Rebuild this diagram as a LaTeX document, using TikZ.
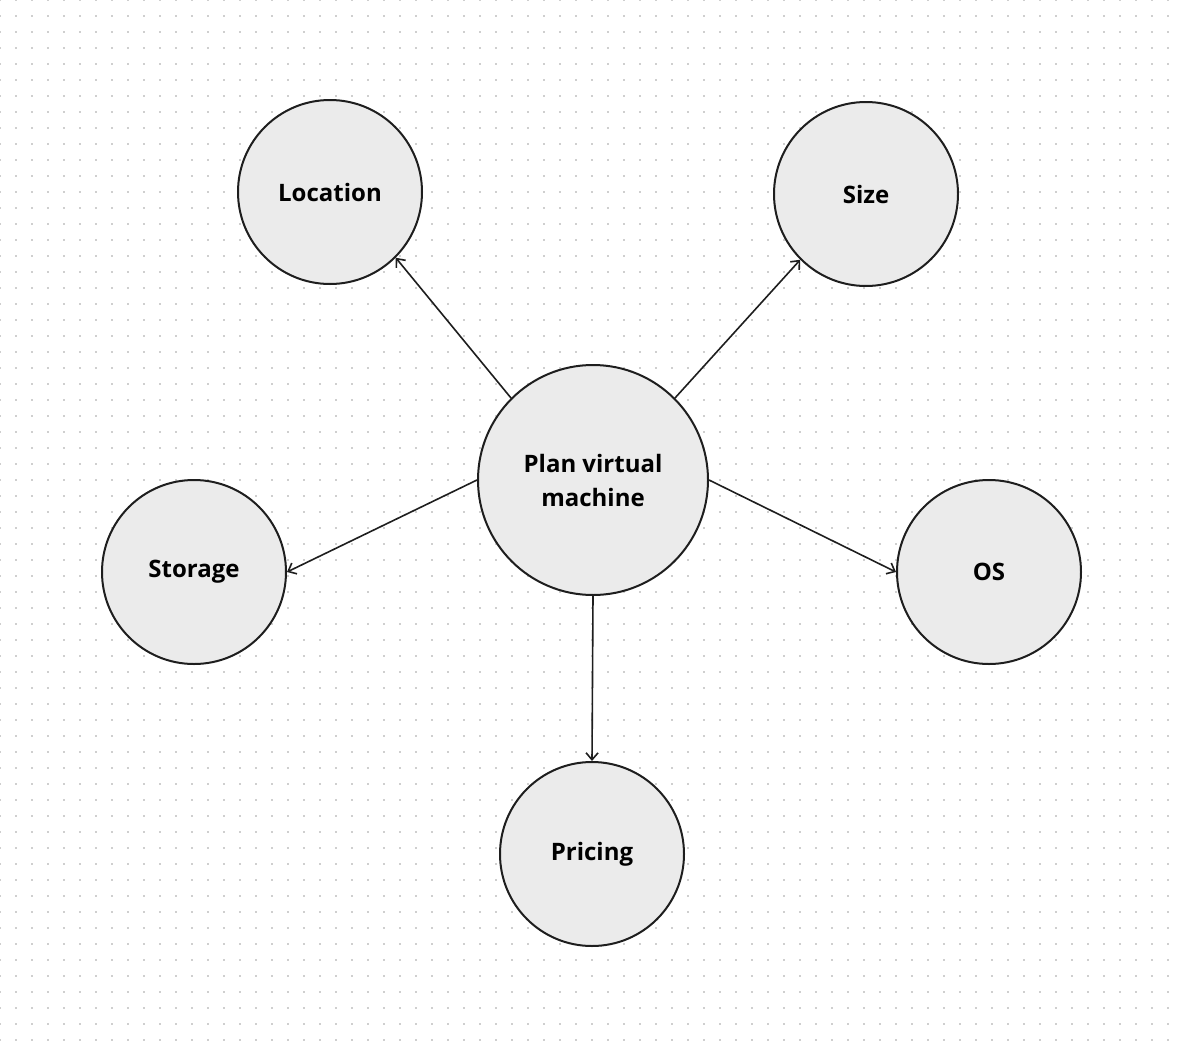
\documentclass[tikz,border=0pt]{standalone}
\usepackage{fontspec}
\setmainfont{Open Sans}
\usetikzlibrary{arrows.meta}
\definecolor{nodefill}{HTML}{EBEBEB}
\definecolor{stroke}{HTML}{1E1E1E}
\definecolor{dotc}{HTML}{CFCFCF}
\tikzset{
  bubble/.style={circle, draw=stroke, line width=2pt, fill=nodefill, inner sep=0pt,
    font=\fontsize{24}{34}\selectfont\bfseries, text=black, align=center},
  small/.style={bubble, minimum size=184pt},
  big/.style={bubble, minimum size=230pt},
  conn/.style={draw=stroke, line width=1.6pt, -{Straight Barb[length=7pt,width=12pt,line width=1.6pt]}}
}
\begin{document}
\begin{tikzpicture}[x=1pt,y=-1pt]
\useasboundingbox (0,0) rectangle (1181,1044);
\fill[white] (0,0) rectangle (1181,1044);
\foreach \i in {0,...,73}{
  \foreach \j in {0,...,65}{
    \fill[dotc] (\i*16-1,\j*16-1) rectangle ++(2,2);
  }
}
\node[big] (plan) at (593,480) {Plan virtual\\machine};
\node[small] (loc) at (330,192) {Location};
\node[small] (size) at (866,194) {Size};
\node[small] (stor) at (194,572) {Storage};
\node[small] (os) at (989,572) {OS};
\node[small] (price) at (592,854) {Pricing};
\draw[conn] (plan.north west) -- (loc.south east);
\draw[conn] (plan.north east) -- (size.south west);
\draw[conn] (plan.west) -- (stor.east);
\draw[conn] (plan.east) -- (os.west);
\draw[conn] (plan.south) -- (price.north);
\end{tikzpicture}
\end{document}
